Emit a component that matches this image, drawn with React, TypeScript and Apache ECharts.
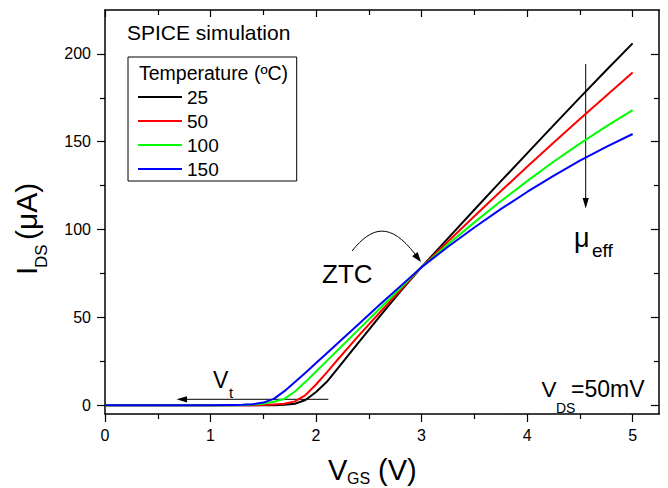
import React, { useEffect, useRef } from "react";
import * as echarts from "echarts";

const FONT = '"Liberation Sans", Arial, Helvetica, sans-serif';

// Gate voltage (V)
const vgs = [0, 0.5, 1.0, 1.2, 1.3, 1.4, 1.5, 1.6, 1.7, 1.8, 1.9, 2.0, 2.1, 2.2, 2.4, 2.6, 2.8, 3.0, 3.25, 3.5, 3.75, 4.0, 4.25, 4.5, 4.75, 5.0];

// Drain current (µA) per temperature
const ids25 = [0, 0, 0, 0, 0, 0, 0, 0.05, 0.2, 0.8, 3.0, 7.5, 13.2, 20.6, 35.5, 50.3, 64.8, 78.6, 95.0, 111.3, 127.4, 143.4, 159.3, 175.1, 190.7, 206.0];
const ids50 = [0, 0, 0, 0, 0, 0.02, 0.1, 0.4, 0.8, 2.2, 5.8, 11.8, 18.6, 25.6, 39.3, 52.5, 65.6, 78.6, 93.2, 107.6, 121.8, 135.7, 149.4, 162.9, 176.2, 189.4];
const ids100 = [0, 0, 0, 0.05, 0.1, 0.35, 0.9, 2.0, 3.6, 7.8, 13.3, 19.2, 25.1, 31.0, 42.9, 54.8, 66.7, 78.6, 91.6, 104.1, 116.1, 127.6, 138.6, 148.9, 158.7, 168.0];
const ids150 = [0, 0, 0.02, 0.1, 0.25, 0.6, 1.5, 3.6, 8.0, 13.2, 18.5, 24.0, 29.5, 35.0, 46.0, 57.0, 67.8, 78.6, 90.2, 101.2, 111.6, 121.4, 130.6, 139.2, 147.1, 154.4];

const temps = ["25", "50", "100", "150"];
const currents = [ids25, ids50, ids100, ids150];
const colors = ["#000000", "#ff0000", "#00ff00", "#0000ff"];

const xMajor = [0, 1, 2, 3, 4, 5];
const xMinor = [0.5, 1.5, 2.5, 3.5, 4.5];
const yMajor = [0, 50, 100, 150, 200];
const yMinor = [25, 75, 125, 175];

const X_MIN = 0;
const X_MAX = 5.25;
const Y_MIN = -5;
const Y_MAX = 225;

function mkAxis(kind: "x" | "y", position: string, ticks: number[], len: number, inside: boolean, showLine: boolean, showLabel: boolean) {
  return {
    type: "value",
    position,
    min: kind === "x" ? X_MIN : Y_MIN,
    max: kind === "x" ? X_MAX : Y_MAX,
    axisLine: { show: showLine, onZero: false, lineStyle: { color: "#000", width: 1.5 } },
    axisTick: { show: true, inside, length: len, customValues: ticks, lineStyle: { color: "#000", width: 1.2 } },
    axisLabel: showLabel
      ? {
          show: true,
          customValues: ticks,
          color: "#000",
          fontSize: 16,
          fontFamily: FONT,
          margin: kind === "x" ? 13 : 14,
        }
      : { show: false },
    splitLine: { show: false },
    minorTick: { show: false },
  };
}

function txt(text: string, x: number, y: number, size: number) {
  return {
    type: "text",
    x,
    y,
    style: { text, fill: "#000", fontSize: size, fontFamily: FONT, verticalAlign: "middle", align: "left" },
  };
}

export default function App() {
  const ref = useRef<HTMLDivElement>(null);
  useEffect(() => {
    if (!ref.current) return;
    const chart = echarts.init(ref.current, undefined, { renderer: "svg" });
    const series = temps.map((t, i) => ({
      name: t,
      type: "line",
      data: vgs.map((v, k) => [v, currents[i][k]]),
      showSymbol: false,
      symbol: "none",
      smooth: false,
      lineStyle: { color: colors[i], width: 2, join: "round" },
      itemStyle: { color: colors[i] },
      z: 2 + i,
    }));
    chart.setOption({
      animation: false,
      backgroundColor: "#ffffff",
      grid: { left: 105, top: 10, width: 554, height: 404, containLabel: false },
      xAxis: [
        mkAxis("x", "bottom", xMajor, 8, false, true, true),
        mkAxis("x", "bottom", xMinor, 5, false, false, false),
        mkAxis("x", "top", xMajor, 7, true, true, false),
        mkAxis("x", "top", xMinor, 5, true, false, false),
      ],
      yAxis: [
        mkAxis("y", "left", yMajor, 8, false, true, true),
        mkAxis("y", "left", yMinor, 5, false, false, false),
        mkAxis("y", "right", yMajor, 8, true, true, false),
        mkAxis("y", "right", yMinor, 5, true, false, false),
      ],
      legend: {
        data: temps,
        left: 128,
        top: 57,
        orient: "vertical",
        padding: [28, 78, 0, 10],
        itemGap: 0,
        itemWidth: 44,
        itemHeight: 2,
        icon: "rect",
        borderColor: "#000",
        borderWidth: 1,
        textStyle: { fontSize: 19, lineHeight: 24, fontFamily: FONT, color: "#000" },
      },
      series,
      graphic: [
        txt("SPICE simulation", 127, 32.3, 21),
        txt("Temperature (ºC)", 139, 72.6, 19.5),
        txt("ZTC", 322, 274, 26),
        txt("μ", 574, 237.5, 27),
        txt("eff", 592, 250.3, 19),
        txt("V", 213, 380.3, 23),
        txt("t", 229, 392.8, 15),
        txt("V", 541.5, 389, 22.5),
        txt("DS", 556, 407.5, 14),
        txt("=50mV", 571, 389, 23),
        // x-axis name
        txt("V", 328, 469.5, 29),
        txt("GS", 347, 478.5, 16),
        txt("(V)", 378, 469.5, 29),
        // y-axis name (rotated)
        {
          type: "group",
          x: 37,
          y: 275,
          rotation: Math.PI / 2,
          children: [txt("I", 0, -10.5, 30), txt("DS", 7, 4, 17), txt("(μA)", 35, -10.5, 30)],
        },
        // ZTC curved arrow
        {
          type: "bezierCurve",
          shape: { x1: 352, y1: 251, cpx1: 372, cpy1: 226, cpx2: 390.3, cpy2: 222, x2: 415, y2: 254 },
          style: { stroke: "#000", lineWidth: 1, fill: "none" },
        },
        {
          type: "polygon",
          shape: { points: [[421, 262], [412.1, 256.2], [417.7, 252.0]] },
          style: { fill: "#000" },
        },
        // mobility arrow
        {
          type: "line",
          shape: { x1: 585.7, y1: 64, x2: 585.7, y2: 200 },
          style: { stroke: "#000", lineWidth: 1 },
        },
        {
          type: "polygon",
          shape: { points: [[585.7, 208.5], [582.6, 198], [588.8, 198]] },
          style: { fill: "#000" },
        },
        // Vt arrow
        {
          type: "line",
          shape: { x1: 328.3, y1: 399.3, x2: 185, y2: 399.3 },
          style: { stroke: "#000", lineWidth: 1 },
        },
        {
          type: "polygon",
          shape: { points: [[176.5, 399.3], [187, 396.2], [187, 402.4]] },
          style: { fill: "#000" },
        },
      ],
    });
    return () => chart.dispose();
  }, []);
  return <div ref={ref} style={{ position: "fixed", left: 0, top: 0, width: 668, height: 488 }} />;
}
